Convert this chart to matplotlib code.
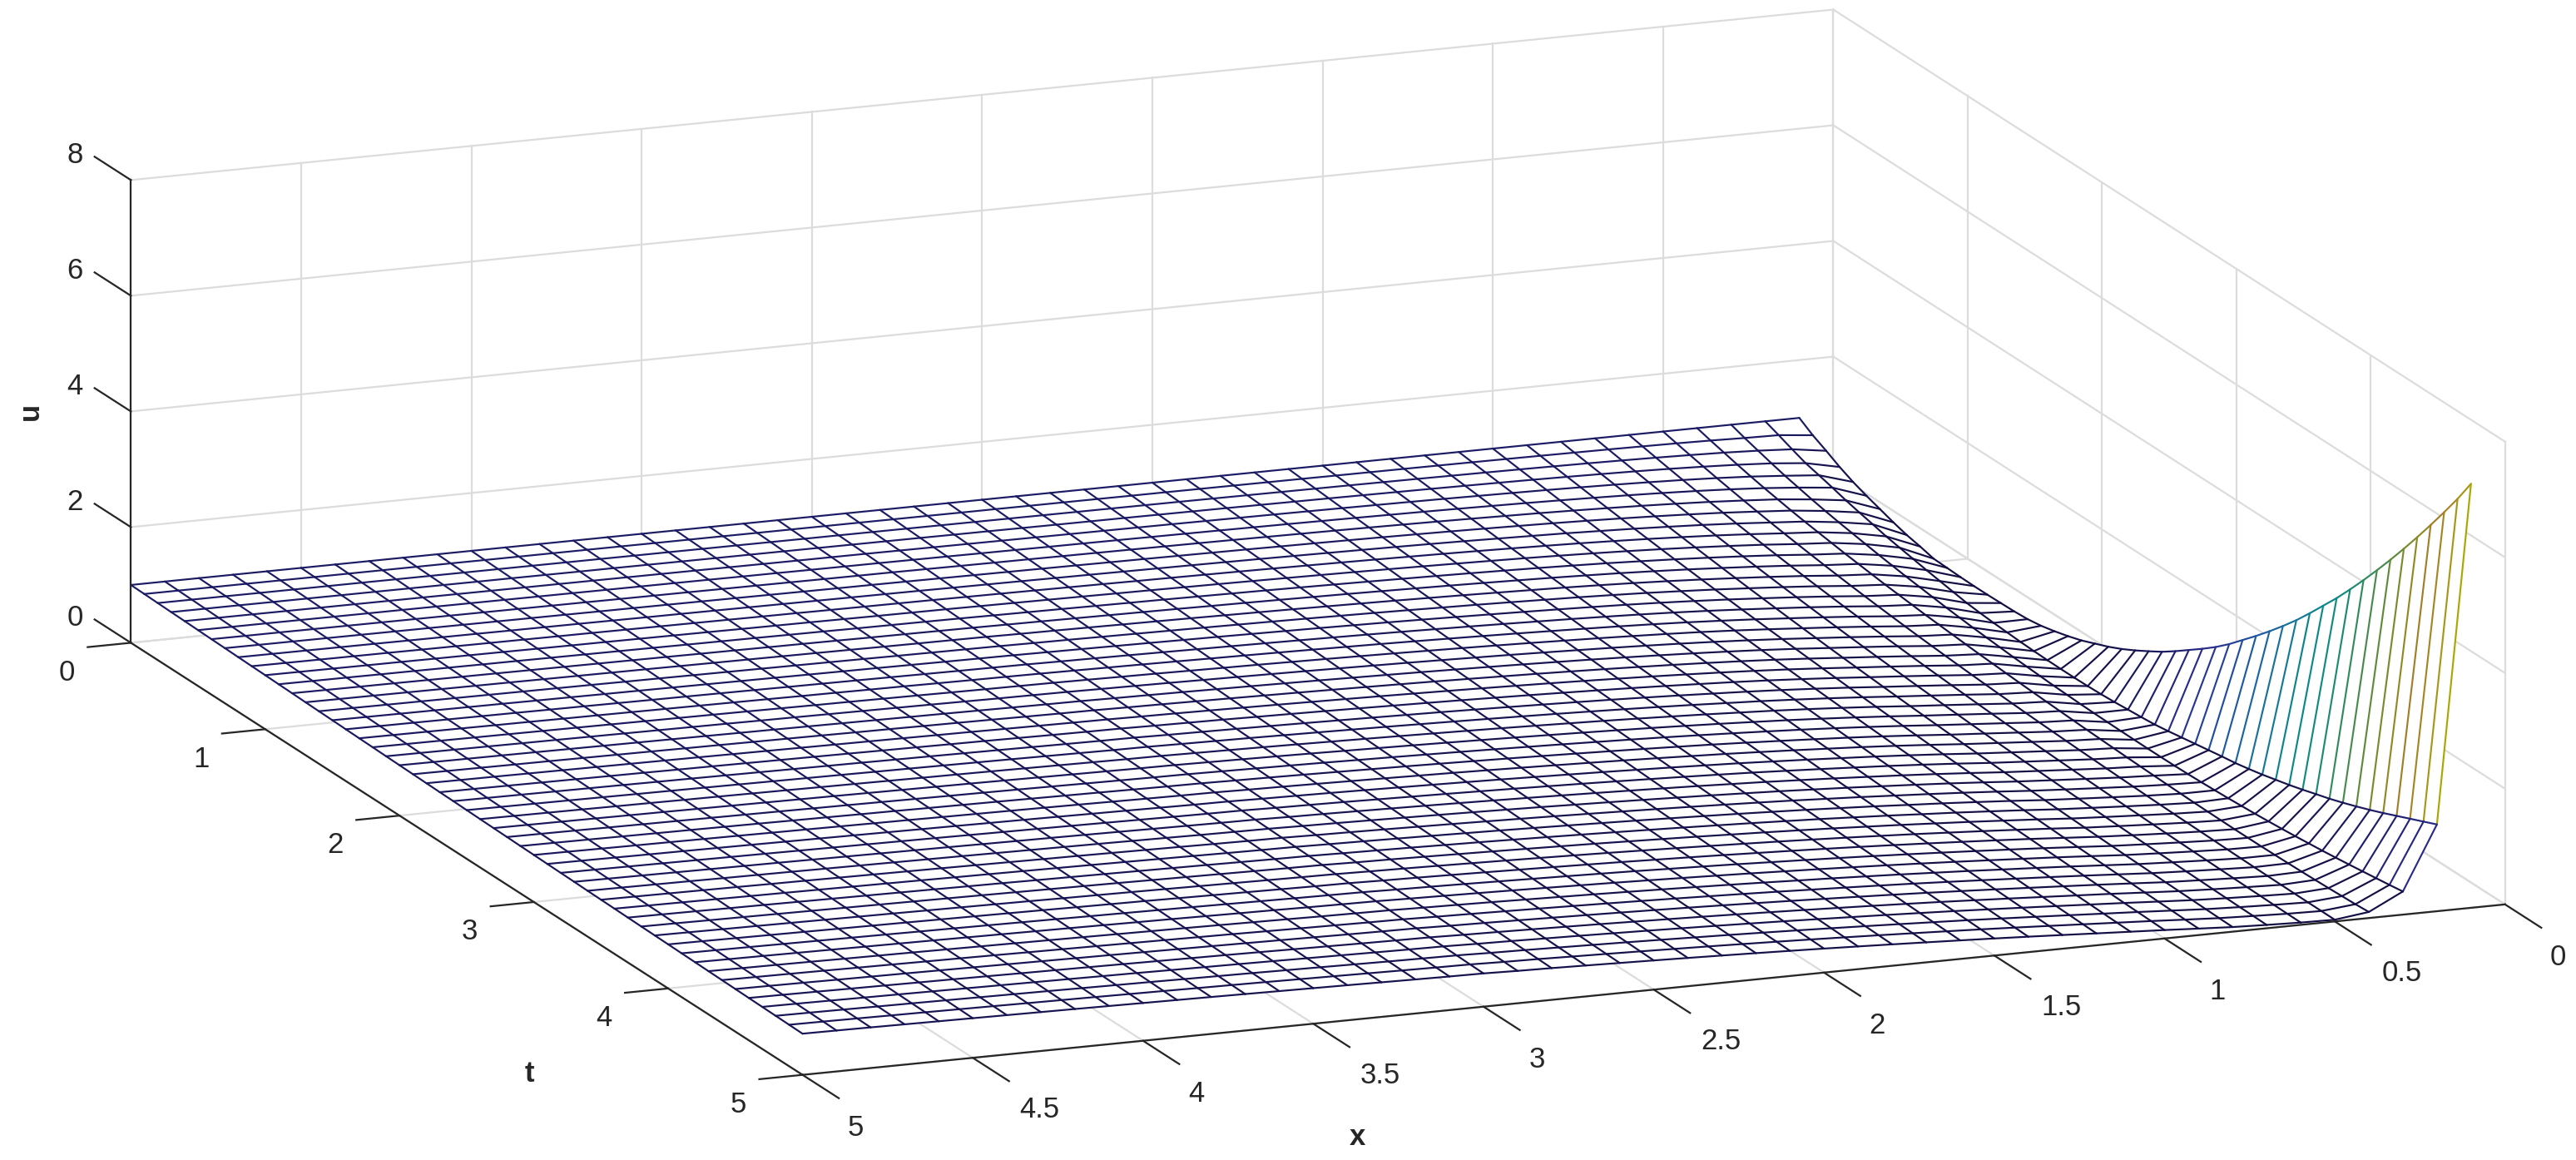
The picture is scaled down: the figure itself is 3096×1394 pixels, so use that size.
import matplotlib
matplotlib.use("Agg")
import matplotlib.pyplot as plt
from matplotlib.colors import LinearSegmentedColormap, Normalize
from mpl_toolkits.mplot3d import proj3d
from mpl_toolkits.mplot3d.art3d import Line3DCollection
import numpy as np

x_values = [0.1, 0.2, 0.3, 0.4, 0.5, 0.6, 0.7, 0.8, 0.9, 1.0, 1.1, 1.2, 1.3, 1.4, 1.5, 1.6, 1.7, 1.8, 1.9, 2.0, 2.1, 2.2, 2.3, 2.4, 2.5,
            2.6, 2.7, 2.8, 2.9, 3.0, 3.1, 3.2, 3.3, 3.4, 3.5, 3.6, 3.7, 3.8, 3.9, 4.0, 4.1, 4.2, 4.3, 4.4, 4.5, 4.6, 4.7, 4.8, 4.9, 5.0]
t_values = [0.0, 0.1, 0.2, 0.3, 0.4, 0.5, 0.6, 0.7, 0.8, 0.9, 1.0, 1.1, 1.2, 1.3, 1.4, 1.5, 1.6, 1.7, 1.8, 1.9, 2.0, 2.1, 2.2, 2.3, 2.4, 2.5,
            2.6, 2.7, 2.8, 2.9, 3.0, 3.1, 3.2, 3.3, 3.4, 3.5, 3.6, 3.7, 3.8, 3.9, 4.0, 4.1, 4.2, 4.3, 4.4, 4.5, 4.6, 4.7, 4.8, 4.9, 5.0]

# u in thousandths, one list per x value, running over t = 0 ... 5
u_milli = [
    [1000,850,730,600,490,400,320,240,170,120,60,50,40,35,35,40,45,60,95,150,215,290,385,480,590,715,850,990,1150,1320,1490,1670,1870,2090,2310,2540,2780,3030,3300,3580,3860,4160,4470,4790,5120,5460,5810,6170,6540,6920,7330],
    [1000,910,815,725,665,600,530,470,415,355,310,265,220,180,140,100,75,55,40,25,15,8,5,5,8,17,30,50,68,90,125,165,205,245,285,320,368,420,480,540,607,680,750,830,915,1005,1100,1200,1300,1400,1500],
    [1000,920,850,780,715,660,605,555,510,470,430,390,355,320,290,260,230,205,180,160,140,120,105,90,75,65,55,48,42,38,35,33,33,35,40,48,58,70,85,100,118,138,160,185,210,238,268,300,332,365,400],
    [1000,935,875,815,760,710,665,620,580,545,510,475,445,415,385,360,335,310,290,270,250,230,215,198,182,168,155,142,130,118,108,98,88,80,72,65,58,52,48,45,42,42,43,46,50,55,62,70,80,90,105],
    [1000,945,892,841,793,748,704,662,622,585,549,515,483,452,423,396,370,346,323,301,281,262,244,227,211,196,182,168,156,145,134,124,115,106,98,90,83,76,70,65,60,55,50,46,42,39,36,34,32,31,30],
    [1000,952,906,862,819,778,739,701,664,629,596,564,533,504,476,449,424,400,376,354,334,313,295,277,260,244,228,214,200,187,175,164,153,143,133,124,115,107,100,93,86,80,74,69,64,59,55,51,47,43,40],
    [1000,958,917,878,839,802,766,731,698,666,634,604,575,547,520,495,470,446,423,401,380,360,341,323,305,288,272,257,242,229,215,203,191,180,169,159,149,140,131,123,115,108,101,95,88,83,77,72,67,63,58],
    [1000,962,926,890,856,822,789,757,726,696,667,639,611,585,559,535,511,488,465,444,423,403,384,366,348,331,314,299,284,269,255,242,229,217,206,195,184,174,164,155,147,138,130,123,116,109,103,97,91,85,80],
    [1000,966,933,901,869,838,808,779,751,723,696,670,645,620,596,573,550,529,507,487,467,448,429,411,394,377,361,345,330,315,301,288,275,262,250,239,228,217,207,197,187,178,170,161,153,146,138,131,125,118,112],
    [1000,969,939,910,881,852,825,798,771,746,721,696,673,650,627,606,585,564,544,524,505,487,469,451,434,418,402,386,371,357,343,329,316,303,291,279,267,256,245,236,227,217,208,199,190,182,174,166,159,152,146],
    [1000,972,944,917,890,864,839,814,790,766,742,720,698,676,655,635,615,595,576,556,537,520,503,487,470,454,439,423,408,394,380,366,353,340,327,315,304,293,282,272,262,252,242,233,224,215,206,198,190,183,176],
    [1000,974,948,923,898,874,850,827,804,782,760,739,718,698,678,659,640,621,602,584,566,549,533,517,501,486,471,456,441,426,412,398,385,373,360,348,336,325,315,305,295,285,275,265,256,247,238,230,222,214,206],
    [1000,976,952,929,906,883,861,839,817,796,776,756,736,717,698,679,661,643,625,608,591,575,559,543,527,512,498,484,470,456,443,430,417,405,393,381,370,359,348,338,327,317,307,298,288,279,270,261,253,245,237],
    [1000,977,955,933,912,891,870,850,830,809,789,770,751,732,714,697,680,662,646,630,614,598,583,568,553,539,525,511,497,484,471,458,446,434,422,410,399,388,377,367,357,347,337,327,318,309,300,291,283,275,267],
    [1000,978,958,937,917,897,878,859,840,820,801,783,765,747,730,713,696,680,664,649,635,619,604,590,576,562,548,535,522,510,498,486,474,462,450,439,428,417,406,395,385,375,365,356,347,338,329,320,312,303,295],
    [1000,980,960,941,922,903,885,867,849,830,812,795,778,761,745,728,712,697,682,667,653,638,624,610,597,583,570,557,545,532,520,508,497,485,474,463,452,441,431,421,411,401,391,382,373,364,355,346,337,329,321],
    [1000,981,962,944,926,908,891,874,856,839,822,805,789,773,757,742,727,712,698,684,670,656,642,628,615,602,590,577,565,553,542,530,519,508,497,486,476,465,455,445,435,425,416,407,397,388,380,371,362,354,346],
    [1000,982,964,947,930,913,896,880,863,847,831,815,800,785,770,755,740,726,712,698,685,671,658,645,632,620,607,595,583,572,562,550,539,528,517,507,497,486,476,467,457,447,438,429,420,411,403,394,386,378,370],
    [1000,983,966,950,933,917,901,885,870,854,839,824,810,795,781,767,753,739,725,712,699,686,673,660,648,636,624,612,601,590,580,569,558,547,537,527,517,507,498,488,479,470,461,452,443,434,426,417,409,401,393],
    [1000,984,968,952,936,921,906,891,876,861,846,832,818,804,791,777,764,751,738,725,712,700,687,675,663,651,640,628,617,607,597,586,576,565,555,545,536,526,517,508,499,490,481,473,464,455,447,439,431,423,415],
    [1000,984,969,954,939,924,910,895,881,867,853,840,826,813,800,787,774,761,749,736,724,712,700,688,677,665,654,643,633,623,613,602,592,582,572,563,553,544,535,526,517,508,500,492,483,475,467,459,451,443,435],
    [1000,985,970,956,941,927,913,899,886,872,859,846,833,820,808,795,783,771,759,747,735,723,712,700,689,678,667,657,647,637,628,618,608,598,589,580,570,561,553,544,535,527,518,510,502,494,486,478,470,462,454],
    [1000,986,971,957,943,930,916,903,890,877,864,852,839,827,815,803,791,780,768,757,746,734,723,712,701,691,680,670,660,651,642,632,622,613,604,595,586,577,568,560,551,543,535,527,519,511,503,495,487,480,472],
    [1000,986,972,958,945,932,919,906,894,881,870,858,846,834,822,811,799,788,777,766,755,744,733,723,712,702,692,682,673,664,654,645,636,627,618,609,601,592,583,575,566,558,550,543,535,527,519,512,504,496,489],
    [1000,987,973,960,947,934,922,910,898,886,874,862,851,840,828,817,806,795,784,774,764,753,743,733,723,713,703,693,684,675,666,657,648,640,631,623,614,606,597,589,580,572,565,557,550,542,535,527,520,512,505],
    [1000,987,974,962,949,937,925,913,901,890,879,867,856,845,834,824,813,803,792,782,772,762,752,742,733,723,714,705,696,686,677,669,660,652,643,635,627,618,610,602,594,586,579,571,564,556,549,542,534,527,520],
    [1000,988,975,963,951,939,927,916,905,894,883,872,861,851,840,830,820,810,800,790,780,770,761,752,742,733,724,715,706,697,688,680,672,663,655,647,639,631,623,615,607,600,592,585,577,570,563,555,548,541,535],
    [1000,988,976,965,953,942,930,919,908,898,887,876,866,856,846,836,826,816,806,797,787,778,769,759,750,741,733,724,715,707,698,690,682,674,666,658,650,642,635,627,619,612,604,597,590,583,576,569,562,556,549],
    [1000,989,977,966,955,944,933,922,911,901,891,880,870,860,850,841,831,822,813,803,793,784,775,766,757,749,741,732,724,715,706,698,690,682,675,667,660,652,644,637,629,622,615,608,601,594,587,580,573,566,560],
    [1000,989,978,967,957,946,936,925,915,905,895,885,875,866,856,847,838,828,819,810,801,792,783,775,767,758,750,741,733,725,717,709,702,694,686,679,671,664,657,649,642,635,628,621,614,608,601,594,588,581,575],
    [1000,989,978,968,958,947,937,927,917,907,897,888,878,869,859,850,841,832,823,814,804,795,787,778,770,761,753,745,737,729,721,713,706,698,691,683,676,669,662,655,647,641,634,627,620,614,607,600,594,587,581],
    [1000,989,979,969,958,948,938,928,919,909,899,890,881,871,862,853,844,835,826,817,809,800,792,783,775,767,759,751,743,735,727,720,712,705,697,690,683,676,669,662,655,648,641,634,628,621,614,608,601,595,589],
    [1000,990,980,970,959,950,940,930,921,911,902,892,883,874,865,857,848,839,830,822,814,806,797,789,781,773,765,757,749,742,734,727,719,712,705,698,691,684,677,670,663,656,650,643,636,630,623,617,610,604,598],
    [1000,990,980,970,961,951,942,932,923,914,905,896,887,878,869,861,852,844,835,827,819,811,803,795,787,779,771,763,756,748,741,733,726,719,712,705,698,691,684,677,670,664,657,651,644,638,631,625,619,613,607],
    [1000,990,981,971,962,953,943,934,925,916,907,898,890,881,872,864,856,847,839,831,823,815,807,799,792,784,777,769,762,754,747,740,733,726,719,712,705,698,691,685,678,672,665,659,653,646,640,634,627,621,615],
    [1000,991,981,972,963,954,945,936,927,918,909,901,892,884,875,867,859,851,843,835,827,820,812,804,797,789,782,775,767,760,753,746,739,732,725,719,712,705,699,692,686,679,673,667,660,654,648,642,636,630,623],
    [1000,991,982,973,964,955,946,938,929,920,912,903,895,887,878,870,862,854,846,839,831,823,816,808,801,794,786,779,772,765,758,751,744,737,731,724,718,711,705,698,692,686,679,673,667,661,655,649,643,637,631],
    [1000,991,982,973,965,956,947,939,930,922,914,905,897,889,881,873,866,858,850,843,835,828,820,813,806,798,791,784,777,770,763,757,750,743,737,730,724,717,711,704,698,692,686,680,674,668,662,656,650,644,639],
    [1000,991,983,974,966,957,949,940,932,924,916,908,900,892,884,876,869,861,854,846,839,832,824,817,810,803,796,789,782,776,769,762,756,749,743,736,730,724,717,711,705,699,693,687,681,675,669,664,658,652,646],
    [1000,991,983,975,966,958,950,942,934,926,918,910,902,895,887,879,872,864,857,850,842,835,828,821,814,807,800,794,787,780,773,767,761,754,748,742,735,729,723,717,711,705,699,693,687,681,676,670,664,659,653],
    [1000,992,983,975,967,959,951,943,935,927,919,912,904,897,889,882,874,867,860,853,846,839,832,825,818,811,805,798,791,785,778,772,766,759,753,747,741,735,729,723,717,711,705,699,693,688,682,677,671,666,660],
    [1000,992,984,976,968,960,952,944,936,929,921,914,906,899,892,884,877,870,863,856,849,842,836,829,822,815,809,802,796,789,783,777,770,764,758,752,746,740,734,728,722,717,711,705,700,694,688,683,678,672,667],
    [1000,992,984,976,969,961,953,945,938,930,923,916,908,901,894,887,880,873,866,859,852,846,839,832,826,819,813,806,800,794,787,781,775,769,763,757,751,745,739,734,728,722,717,711,706,700,695,689,684,678,673],
    [1000,992,985,977,969,962,954,947,939,932,925,917,910,903,896,889,882,875,869,862,855,849,842,836,829,823,816,810,804,798,792,786,780,774,768,762,756,750,744,739,733,728,722,717,711,706,701,695,690,685,679],
    [1000,992,985,977,970,962,955,948,940,933,926,919,912,905,898,892,885,878,871,865,858,852,845,839,833,826,820,814,808,802,796,790,784,778,772,766,761,755,749,744,738,733,727,722,717,712,706,701,696,691,685],
    [1000,993,985,978,970,963,956,949,942,935,928,921,914,907,900,894,887,880,874,867,861,855,848,842,836,830,823,817,811,805,800,794,788,782,776,771,765,760,754,749,743,738,733,727,722,717,712,707,702,697,691],
    [1000,993,985,978,971,964,957,950,943,936,929,922,916,909,902,896,889,883,876,870,864,857,851,845,839,833,827,821,815,809,803,797,792,786,781,775,770,764,759,754,748,743,738,733,728,722,717,712,707,702,697],
    [1000,993,986,979,972,965,958,951,944,937,931,924,917,911,904,898,891,885,879,873,866,860,854,848,842,836,830,824,819,813,807,801,796,790,785,779,774,769,763,758,753,748,743,738,733,728,723,718,713,708,703],
    [1000,993,986,979,972,965,958,952,945,938,932,925,919,912,906,900,893,887,881,875,868,862,856,851,845,839,833,827,822,816,811,805,800,794,789,783,778,773,768,763,758,752,747,742,737,733,728,723,718,713,708],
    [1000,993,986,979,973,966,959,953,946,940,934,927,921,914,908,902,895,889,883,877,871,865,859,853,848,842,836,830,825,819,814,808,803,798,792,787,782,777,772,767,762,757,752,747,742,737,732,727,722,717,712],
]

x_ticks = [0, 0.5, 1, 1.5, 2, 2.5, 3, 3.5, 4, 4.5, 5]
x_tick_labels = ["0", "0.5", "1", "1.5", "2", "2.5", "3", "3.5", "4", "4.5", "5"]
t_ticks = [0, 1, 2, 3, 4, 5]
z_ticks = [0, 2, 4, 6, 8]

# colours picked off the mesh, low u to high u
color_stops = ["#120e42", "#15114a", "#1c1c68", "#2a3090", "#1f4f9f", "#1a6aa0", "#0f7f95", "#0a8a88",
               "#1e8a70", "#408a50", "#6a8a35", "#8f8a25", "#a87a28", "#a89020", "#a8a800"]

AXIS_COLOR = "#262626"
GRID_COLOR = "#dcdcdc"
FONT = ["Liberation Sans", "DejaVu Sans"]
LABEL_SIZE = 25


def draw_walls(ax):
    for xt in x_ticks:
        ax.plot([xt, xt], [0, 5], [0, 0], color=GRID_COLOR, lw=1.6, zorder=1)
        ax.plot([xt, xt], [0, 0], [0, 8], color=GRID_COLOR, lw=1.6, zorder=1)
    for tt in t_ticks:
        ax.plot([0, 5], [tt, tt], [0, 0], color=GRID_COLOR, lw=1.6, zorder=1)
        ax.plot([0, 0], [tt, tt], [0, 8], color=GRID_COLOR, lw=1.6, zorder=1)
    for zt in z_ticks:
        ax.plot([0, 5], [0, 0], [zt, zt], color=GRID_COLOR, lw=1.6, zorder=1)
        ax.plot([0, 0], [0, 5], [zt, zt], color=GRID_COLOR, lw=1.6, zorder=1)


def tick_label(ax, x, t, z, label):
    # place the label through the 3D projection, as plain 2D text
    px, py, _ = proj3d.proj_transform(x, t, z, ax.get_proj())
    ax.text2D(px, py, label, transform=ax.transData, ha="center", va="center",
              fontsize=LABEL_SIZE, color=AXIS_COLOR, family=FONT)


def draw_axes(ax):
    ax.plot([0, 5], [5, 5], [0, 0], color=AXIS_COLOR, lw=1.6, zorder=4)
    ax.plot([5, 5], [0, 5], [0, 0], color=AXIS_COLOR, lw=1.6, zorder=4)
    ax.plot([5, 5], [0, 0], [0, 8], color=AXIS_COLOR, lw=1.6, zorder=4)
    for xt, label in zip(x_ticks, x_tick_labels):
        ax.plot([xt, xt], [5, 5.27], [0, 0], color=AXIS_COLOR, lw=1.6, zorder=4)
        # labels with a decimal point sit a little to the right
        shift = 0.04 if "." in label else 0
        tick_label(ax, xt - shift, 5.396, -0.33, label)
    for tt in t_ticks:
        ax.plot([5, 5.127], [tt, tt], [0, 0], color=AXIS_COLOR, lw=1.6, zorder=4)
        tick_label(ax, 5.188, tt, -0.405, str(tt))
    for zt in z_ticks:
        ax.plot([5, 5], [0, -0.27], [zt, zt], color=AXIS_COLOR, lw=1.6, zorder=4)
        tick_label(ax, 5, -0.415, zt - 0.19, str(zt))


def draw_mesh(ax, x, t, u):
    cmap = LinearSegmentedColormap.from_list("mesh", color_stops)
    norm = Normalize(0, u.max())
    X, T = np.meshgrid(x, t, indexing="ij")
    ax.plot_surface(X, T, u, color="white", shade=False, linewidth=0, antialiased=False,
                    rstride=1, cstride=1, zorder=2)
    segments = []
    values = []
    # each piece of line takes the colour of the vertex it starts from
    for i in range(len(x)):
        for j in range(len(t)):
            if i + 1 < len(x):
                segments.append([(x[i], t[j], u[i, j]), (x[i + 1], t[j], u[i + 1, j])])
                values.append(u[i, j])
            if j + 1 < len(t):
                segments.append([(x[i], t[j], u[i, j]), (x[i], t[j + 1], u[i, j + 1])])
                values.append(u[i, j])
    lines = Line3DCollection(segments, colors=cmap(norm(values)), linewidths=1.55, capstyle="round", zorder=3)
    ax.add_collection3d(lines, autolim=False)


if __name__ == "__main__":
    fig = plt.figure(figsize=(30.96, 13.94), dpi=100)
    ax = fig.add_axes([7 / 3096, -834.6 / 1394, 3071 / 3096, 3071 / 1394], projection="3d", proj_type="ortho")
    ax.computed_zorder = False
    ax.view_init(elev=14.7, azim=68.47)
    ax.set_box_aspect((2200, 2200, 575))
    ax.patch.set_alpha(0)
    ax.set_axis_off()

    u = np.array(u_milli) / 1000
    draw_walls(ax)
    draw_mesh(ax, np.array(x_values), np.array(t_values), u)

    ax.set_xlim(0, 5, view_margin=0)
    ax.set_ylim(0, 5, view_margin=0)
    ax.set_zlim(0, 8, view_margin=0)
    draw_axes(ax)
    ax.set_xlim(0, 5, view_margin=0)
    ax.set_ylim(0, 5, view_margin=0)
    ax.set_zlim(0, 8, view_margin=0)

    fig.text(1631 / 3096, 1 - 1367 / 1394, "x", ha="center", va="center", fontsize=LABEL_SIZE, fontweight="bold", color=AXIS_COLOR, family=FONT)
    fig.text(636 / 3096, 1 - 1290 / 1394, "t", ha="center", va="center", fontsize=LABEL_SIZE, fontweight="bold", color=AXIS_COLOR, family=FONT)
    fig.text(36 / 3096, 1 - 494 / 1394, "u", ha="center", va="center", rotation=90, fontsize=LABEL_SIZE, fontweight="bold", color=AXIS_COLOR, family=FONT)

    fig.savefig("out.png", dpi=100, facecolor="white")
